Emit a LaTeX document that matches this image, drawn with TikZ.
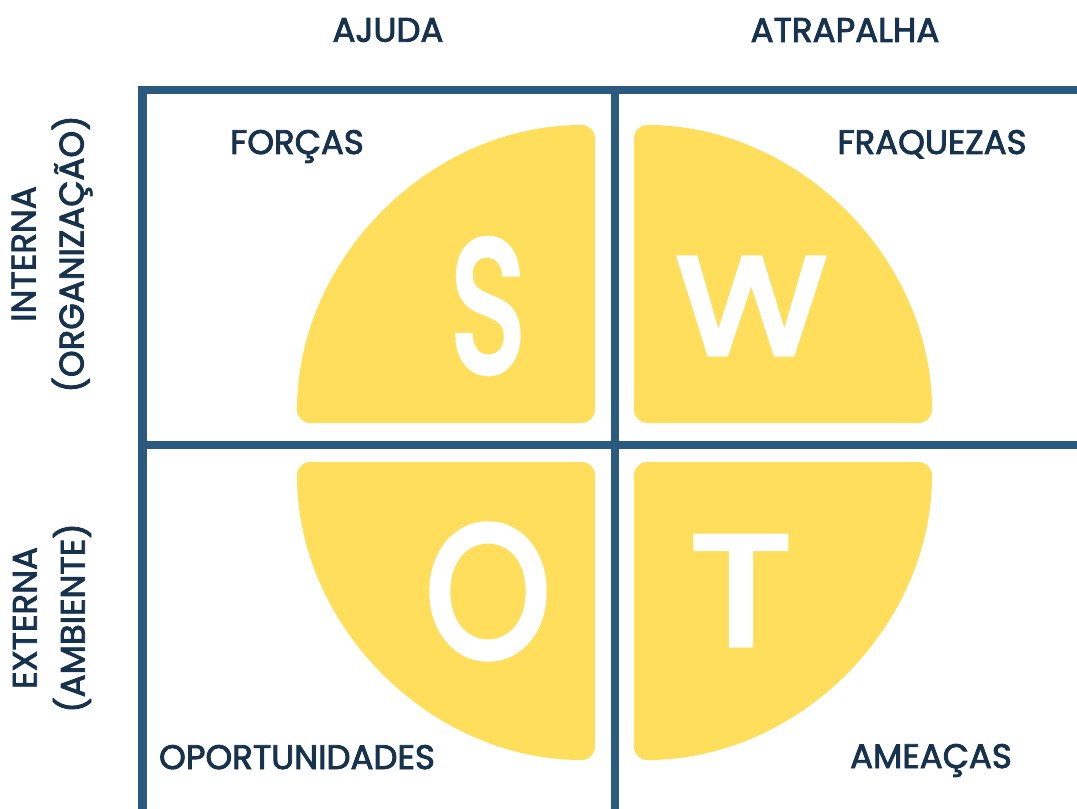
\documentclass[tikz,border=0pt]{standalone}
\usepackage{fontspec}
\setmainfont{Poppins}
\newfontfamily\lblfont{Poppins}[FakeBold=2.5]
\newfontfamily\bigfont{Poppins}[FakeBold=4]
\definecolor{navy}{HTML}{2B5A80}
\definecolor{ink}{HTML}{17324D}
\definecolor{sun}{HTML}{FEDE5A}
\begin{document}
\begin{tikzpicture}[x=0.75pt,y=-0.75pt,
  quad/.style={fill=sun, rounded corners=10},
  grid/.style={draw=navy, line width=6.2pt},
  lbl/.style={text=ink, font=\lblfont\fontsize{25.5}{36}\selectfont, inner sep=0pt, align=center},
  big/.style={text=white, inner sep=0pt}]
\useasboundingbox (0,0) rectangle (1077,809);
% quarter disks
\fill[quad] (595,423) -- (297,423) arc[start angle=180, end angle=270, radius=298] -- cycle;
\fill[quad] (634,423) -- (634,125) arc[start angle=270, end angle=360, radius=298] -- cycle;
\fill[quad] (595,462) -- (595,760) arc[start angle=90, end angle=180, radius=298] -- cycle;
\fill[quad] (634,462) -- (932,462) arc[start angle=0, end angle=90, radius=298] -- cycle;
% grid
\draw[grid] (1077,90) -- (142.5,90) -- (142.5,809);
\draw[grid] (615,90) -- (615,809);
\draw[grid] (142.5,445) -- (1077,445);
% big letters
\node[big, font=\bigfont\fontsize{140}{140}\selectfont, xscale=0.68] (s) at (488,306) {S};
\node[big, font=\bigfont\fontsize{103}{103}\selectfont, xscale=1.12] (w) at (751.5,306) {W};
\node[big, font=\bigfont\fontsize{140}{140}\selectfont, xscale=0.85] (o) at (488,591.5) {O};
\node[big, font=\bigfont\fontsize{116}{116}\selectfont, xscale=1.2] (t) at (741,590.5) {T};
% labels
\node[lbl] (ajuda) at (388,30) {AJUDA};
\node[lbl] (atrapalha) at (845,30) {ATRAPALHA};
\node[lbl, anchor=base] (forcas) at (297,154) {FORÇAS};
\node[lbl, anchor=base] (fraquezas) at (932,154) {FRAQUEZAS};
\node[lbl, anchor=base] (oport) at (297,769) {OPORTUNIDADES};
\node[lbl, anchor=base] (ameacas) at (931,768) {AMEAÇAS};
\node[lbl, rotate=90] (interna) at (52,254) {INTERNA\\(ORGANIZAÇÃO)};
\node[lbl, rotate=90] (externa) at (52,618) {EXTERNA\\(AMBIENTE)};
\end{tikzpicture}
\end{document}
